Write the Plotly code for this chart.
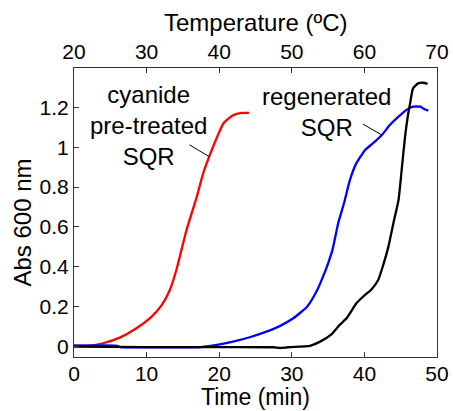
import plotly.graph_objects as go

# Time (min) and absorbance values
red_t = [0, 2.2, 4.0, 6.3, 8.6, 10.7, 12.1, 13.2, 14.1, 14.8, 15.5, 16.2, 16.9, 17.8, 18.7, 19.7, 20.6, 21.9, 23.1, 24.1]
red_v = [0.005, 0.005, 0.017, 0.045, 0.092, 0.15, 0.209, 0.284, 0.384, 0.485, 0.585, 0.668, 0.75, 0.87, 0.96, 1.05, 1.12, 1.16, 1.172, 1.172]

blue_t = [0, 5.8, 6.4, 12, 16.5, 17.4, 19.7, 21.9, 24.2, 26.5, 28.4, 30.2, 32.1, 33.4, 34.3, 35.0, 35.6, 36.4, 37.2, 38.0, 38.9, 40.1, 41.2, 42.4, 43.5, 44.7, 45.8, 46.7, 47.7, 48.3, 48.8]
blue_v = [0.005, 0.005, -0.003, -0.003, -0.004, -0.002, 0.009, 0.025, 0.047, 0.075, 0.104, 0.142, 0.2, 0.276, 0.351, 0.418, 0.485, 0.62, 0.72, 0.835, 0.92, 0.986, 1.02, 1.061, 1.111, 1.153, 1.187, 1.203, 1.203, 1.19, 1.183]

black_t = [0, 10, 20, 27.5, 28.4, 29.5, 31.1, 32.5, 33.9, 35.5, 36.6, 37.6, 38.9, 39.8, 41.0, 41.9, 42.6, 43.3, 44.0, 44.7, 45.2, 45.6, 46.0, 46.3, 46.7, 47.4, 48.1, 48.7]
black_v = [0.0, -0.002, -0.002, -0.003, -0.007, -0.003, 0.0, 0.004, 0.025, 0.063, 0.109, 0.145, 0.217, 0.25, 0.288, 0.334, 0.41, 0.5, 0.62, 0.735, 0.91, 1.053, 1.16, 1.22, 1.295, 1.32, 1.323, 1.317]

time_ticks = [0, 10, 20, 30, 40, 50]
temp_ticks = [20, 30, 40, 50, 60, 70]
abs_ticks = [0, 0.2, 0.4, 0.6, 0.8, 1, 1.2]

x_title = "Time (min)"
x2_title = "Temperature (ºC)"
y_title = "Abs 600 nm"

# labels: text, anchor (t, v), leader-line start/end (t, v)
label_red = "cyanide<br>pre-treated<br>SQR"
label_red_pos = (10.3, 1.11)
leader_red = ((15.7, 1.016), (18.6, 0.953))
label_blue = "regenerated<br>SQR"
label_blue_pos = (34.8, 1.176)
leader_blue = ((39.6, 1.12), (42.4, 1.061))

FONT = "Liberation Sans, Arial, sans-serif"
TICK_SIZE = 21
TITLE_SIZE = 24

fig = go.Figure()
line_common = dict(width=2.3, shape="spline", smoothing=0.5)
fig.add_trace(go.Scatter(x=red_t, y=red_v, mode="lines", line=dict(color="#ff0000", **line_common), showlegend=False))
fig.add_trace(go.Scatter(x=blue_t, y=blue_v, mode="lines", line=dict(color="#0000ff", **line_common), showlegend=False))
fig.add_trace(go.Scatter(x=black_t, y=black_v, mode="lines", line=dict(color="#000000", **line_common), showlegend=False))
# invisible trace to anchor top axis
fig.add_trace(go.Scatter(x=temp_ticks, y=[None] * len(temp_ticks), xaxis="x2", mode="lines", showlegend=False, hoverinfo="skip"))

axis_common = dict(
    showgrid=False, zeroline=False, showline=True, linecolor="#333333", linewidth=1.2,
    ticks="inside", ticklen=5, tickwidth=1.2, tickcolor="#333333", automargin=False,
    tickfont=dict(family=FONT, size=TICK_SIZE, color="black"),
)

fig.update_layout(
    width=453, height=411,
    margin=dict(l=74, r=16, t=68, b=54),
    plot_bgcolor="white", paper_bgcolor="white",
    font=dict(family=FONT, size=TICK_SIZE, color="black"),
    xaxis=dict(range=[0, 50], tickvals=time_ticks, ticklabelstandoff=-2, **axis_common),
    xaxis2=dict(range=[20, 70], tickvals=temp_ticks, overlaying="x", side="top", anchor="y", **axis_common),
    yaxis=dict(range=[-0.052, 1.397], tickvals=abs_ticks, mirror=True, **axis_common),
)

# axis titles
fig.add_annotation(xref="paper", yref="paper", x=0.5, y=0, yanchor="bottom", yshift=-54, borderpad=0,
                   text=x_title, showarrow=False, font=dict(family=FONT, size=23, color="black"))
fig.add_annotation(xref="paper", yref="paper", x=0.5, y=1, yanchor="middle", yshift=46,
                   text=x2_title, showarrow=False, font=dict(family=FONT, size=TITLE_SIZE, color="black"))
fig.add_annotation(xref="paper", yref="paper", x=0, y=0.5, xanchor="center", xshift=-52, yshift=-10,
                   textangle=-90, text=y_title, showarrow=False, font=dict(family=FONT, size=TITLE_SIZE, color="black"))

for text, pos in [(label_red, label_red_pos), (label_blue, label_blue_pos)]:
    fig.add_annotation(x=pos[0], y=pos[1], xref="x", yref="y", text=text, showarrow=False,
                       align="center", font=dict(family=FONT, size=TITLE_SIZE, color="black"))

for (a, b) in [leader_red, leader_blue]:
    fig.add_annotation(x=b[0], y=b[1], ax=a[0], ay=a[1], xref="x", yref="y", axref="x", ayref="y",
                       text="", showarrow=True, arrowhead=0, arrowwidth=1, arrowcolor="black")

fig.write_html("out.html", config={"displayModeBar": False},
               post_script="document.body.style.margin='0';document.body.style.overflow='hidden';")
